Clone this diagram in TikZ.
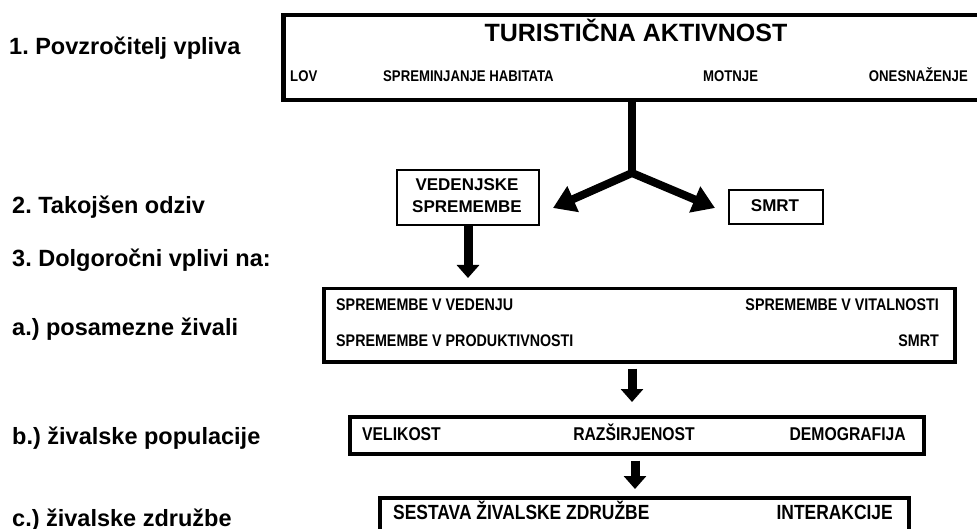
\documentclass[tikz,border=0pt]{standalone}
\usepackage{fontspec}
\setmainfont{Liberation Sans}
\newfontfamily\narrowfont[FakeStretch=0.85]{Liberation Sans}
\usetikzlibrary{arrows.meta}
\tikzset{
  lbl/.style={anchor=base west, inner sep=0pt, font=\fontsize{23.5}{23.5}\selectfont\bfseries},
  frame/.style={draw, anchor=north west, inner sep=0pt, line width=#1},
  txt/.style={inner sep=0pt, font=\fontsize{#1}{#1}\selectfont\bfseries},
  ntxt/.style={inner sep=0pt, font=\narrowfont\fontsize{#1}{#1}\selectfont\bfseries},
  fork/.style={line width=8pt, {Triangle[length=22pt,width=27pt]}-{Triangle[length=22pt,width=27pt]}},
  stem/.style={line width=8pt},
  down/.style={line width=9pt, -{Triangle[length=13pt,width=22pt]}}
}
\begin{document}
\frenchspacing
\begin{tikzpicture}[x=1pt,y=-1pt]
\useasboundingbox (0,0) rectangle (977,529);
\clip (0,0) rectangle (977,529);
% left labels
\node[lbl] (l1) at (9,55) {1. Povzročitelj vpliva};
\node[lbl] (l2) at (12,214) {2. Takojšen odziv};
\node[lbl] (l3) at (12,267) {3. Dolgoročni vplivi na:};
\node[lbl] (l4) at (12,335) {a.) posamezne živali};
\node[lbl] (l5) at (12,444) {b.) živalske populacije};
\node[lbl] (l6) at (12,526) {c.) živalske združbe};
% top box
\node[frame=4.5pt, minimum width=720pt, minimum height=85pt] (top) at (281,13) {};
\node[txt=25, anchor=base] (title) at (636,42) {TURISTIČNA AKTIVNOST};
\node[ntxt=15.5, anchor=base west] (lov) at (290,82) {LOV};
\node[ntxt=15.5, anchor=base west] (hab) at (383,82) {SPREMINJANJE HABITATA};
\node[ntxt=15.5, anchor=base west] (mot) at (703,82) {MOTNJE};
\node[ntxt=15.5, anchor=base east] (one) at (968,82) {ONESNAŽENJE};
% immediate response
\node[frame=2pt, minimum width=142pt, minimum height=55pt] (ved) at (396,169) {};
\node[txt=17, anchor=base] (vedt) at (467,191) {VEDENJSKE};
\node[txt=17, anchor=base] (vedt2) at (467,213) {SPREMEMBE};
\node[frame=2pt, minimum width=94pt, minimum height=34pt] (smrt) at (728,189) {};
\node[txt=17, anchor=base] (smrtt) at (775,212) {SMRT};
% fork
\coordinate (jn) at (632,173);
\coordinate (tipL) at (553,208);
\coordinate (tipR) at (715,208);
\draw[stem] (top.south -| jn) -- (jn);
\draw[fork, line join=miter] (tipL) -- (jn) -- (tipR);
% box a
\node[frame=3.5pt, minimum width=631pt, minimum height=73pt] (ba) at (322,287) {};
\node[ntxt=16.8, anchor=base west] (a1) at (336,311) {SPREMEMBE V VEDENJU};
\node[ntxt=16.8, anchor=base east] (a2) at (939,311) {SPREMEMBE V VITALNOSTI};
\node[ntxt=16.8, anchor=base west] (a3) at (336,346) {SPREMEMBE V PRODUKTIVNOSTI};
\node[ntxt=16.8, anchor=base east] (a4) at (939,346) {SMRT};
\draw[down] (ved.south) -- (ved.south |- 0,278);
% box b
\node[frame=3.5pt, minimum width=574pt, minimum height=37pt] (bb) at (348,415) {};
\node[ntxt=18.5, anchor=base west] (b1) at (362,440) {VELIKOST};
\node[ntxt=18.5, anchor=base] (b2) at (634,440) {RAZŠIRJENOST};
\node[ntxt=18.5, anchor=base east] (b3) at (906,440) {DEMOGRAFIJA};
\coordinate (ab) at (632,402);
\draw[down] (ba.south -| ab) ++(0,5) -- (ab);
% box c
\node[frame=3.5pt, minimum width=529pt, minimum height=50pt] (bc) at (378,496) {};
\node[ntxt=20.5, anchor=base west] (c1) at (393,519) {SESTAVA ŽIVALSKE ZDRUŽBE};
\node[ntxt=20.5, anchor=base east] (c2) at (893,519) {INTERAKCIJE};
\coordinate (bcend) at (635,489);
\draw[down] (bb.south -| bcend) ++(0,5) -- (bcend);
\end{tikzpicture}
\end{document}
